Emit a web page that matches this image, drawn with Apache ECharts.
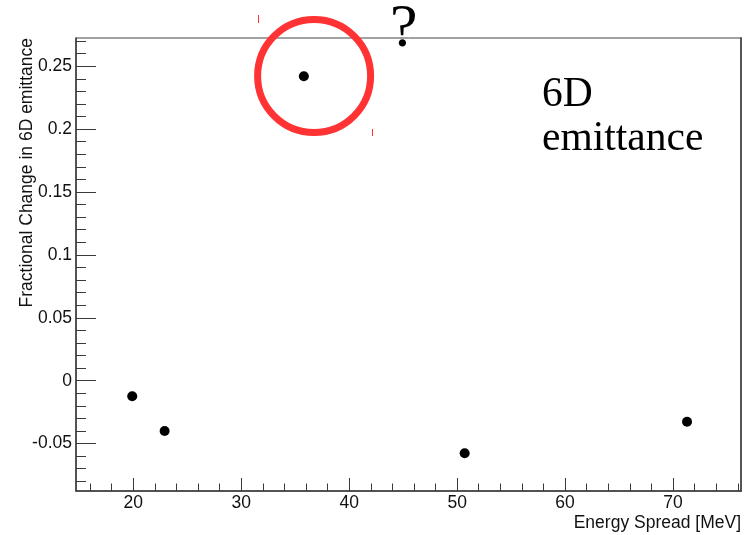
<!DOCTYPE html>
<html>
<head>
<meta charset="utf-8">
<script src="https://cdn.jsdelivr.net/npm/echarts@6/dist/echarts.min.js"></script>
<style>
html,body{margin:0;padding:0;background:#fff;}
#chart{width:753px;height:535px;}
</style>
</head>
<body>
<div id="chart"></div>
<script>
// ---- data ----
const energySpread = [19.9, 22.9, 35.8, 50.7, 71.3];
const fracChange6D = [-0.0124, -0.040, 0.242, -0.0577, -0.0326];
const xMajorTicks = [20, 30, 40, 50, 60, 70];
const xMinorTicks = [16, 18, 20, 22, 24, 26, 28, 30, 32, 34, 36, 38, 40, 42, 44, 46, 48, 50, 52, 54, 56, 58, 60, 62, 64, 66, 68, 70, 72, 74, 76];
const yMajorTicks = [-0.05, 0, 0.05, 0.1, 0.15, 0.2, 0.25];
const yMinorTicks = [-0.08, -0.07, -0.06, -0.05, -0.04, -0.03, -0.02, -0.01, 0, 0.01, 0.02, 0.03, 0.04, 0.05, 0.06, 0.07, 0.08, 0.09, 0.1, 0.11, 0.12, 0.13, 0.14, 0.15, 0.16, 0.17, 0.18, 0.19, 0.2, 0.21, 0.22, 0.23, 0.24, 0.25, 0.26, 0.27];
const xRange = [14.69, 76.3];
const yRange = [-0.0877, 0.2724];
const highlightPoint = [[36.75, 0.2422]];
const xTitle = 'Energy Spread [MeV]';
const yTitle = 'Fractional Change in 6D emittance';

const points = energySpread.map((x, i) => [x, fracChange6D[i]]);
const axisColor = '#3a3a3a';
const sans = 'Liberation Sans';
const serif = 'Liberation Serif';

const chart = echarts.init(document.getElementById('chart'), null, {renderer: 'canvas'});
chart.setOption({
  animation: false,
  backgroundColor: '#fff',
  grid: {left: 76, top: 38, right: 12, bottom: 44, containLabel: false, outerBoundsMode: 'none',
    show: true, borderColor: '#444', borderWidth: 1, backgroundColor: 'transparent'},
  xAxis: [
    {
      type: 'value', min: xRange[0], max: xRange[1], position: 'bottom',
      axisLine: {show: true, onZero: false, lineStyle: {color: axisColor, width: 1.5}},
      axisTick: {show: true, inside: true, length: 13, customValues: xMajorTicks, lineStyle: {color: axisColor}},
      axisLabel: {show: true, customValues: xMajorTicks, margin: 3, color: '#111', fontFamily: sans, fontSize: 17.5, formatter: v => String(v)},
      splitLine: {show: false}
    },
    {
      type: 'value', min: xRange[0], max: xRange[1], position: 'bottom',
      axisLine: {show: false, onZero: false},
      axisTick: {show: true, inside: true, length: 7.5, customValues: xMinorTicks, lineStyle: {color: axisColor}},
      axisLabel: {show: false},
      splitLine: {show: false}
    }
  ],
  yAxis: [
    {
      type: 'value', min: yRange[0], max: yRange[1], position: 'left',
      axisLine: {show: true, onZero: false, lineStyle: {color: axisColor, width: 1.5}},
      axisTick: {show: true, inside: true, length: 20, customValues: yMajorTicks, lineStyle: {color: axisColor}},
      axisLabel: {show: true, customValues: yMajorTicks, margin: 4, color: '#111', fontFamily: sans, fontSize: 17.5, formatter: v => String(v)},
      splitLine: {show: false}
    },
    {
      type: 'value', min: yRange[0], max: yRange[1], position: 'left',
      axisLine: {show: false, onZero: false},
      axisTick: {show: true, inside: true, length: 10, customValues: yMinorTicks, lineStyle: {color: axisColor}},
      axisLabel: {show: false},
      splitLine: {show: false}
    },
    {
      type: 'value', min: yRange[0], max: yRange[1], position: 'right',
      axisLine: {show: true, onZero: false, lineStyle: {color: '#555', width: 2}},
      axisTick: {show: false},
      axisLabel: {show: false},
      splitLine: {show: false}
    }
  ],
  series: [
    {
      type: 'scatter', xAxisIndex: 0, yAxisIndex: 0,
      data: points, symbol: 'circle', symbolSize: 10,
      itemStyle: {color: '#000', opacity: 1}, z: 3
    },
    {
      type: 'scatter', xAxisIndex: 0, yAxisIndex: 0, clip: false, silent: true,
      data: highlightPoint, symbol: 'circle', symbolSize: 113,
      itemStyle: {color: 'rgba(0,0,0,0)', borderColor: '#ff3333', borderWidth: 7, opacity: 1}, z: 4
    }
  ],
  graphic: [
    {type: 'text', x: 741, y: 523.5, style: {text: xTitle, fontFamily: sans, fontSize: 17.5, fill: '#111', align: 'right', verticalAlign: 'middle'}},
    {type: 'text', x: 27.5, y: 38, rotation: Math.PI / 2, style: {text: yTitle, fontFamily: sans, fontSize: 17.5, fill: '#111', align: 'right', verticalAlign: 'middle'}},
    {type: 'line', shape: {x1: 258.5, y1: 15, x2: 258.5, y2: 23}, style: {stroke: '#ff3333', lineWidth: 1}},
    {type: 'line', shape: {x1: 372.5, y1: 129, x2: 372.5, y2: 136}, style: {stroke: '#ff3333', lineWidth: 1}},
    {type: 'text', x: 390, y: 30, style: {text: '?', fontFamily: serif, fontSize: 62, fill: '#000', align: 'left', verticalAlign: 'middle'}},
    {type: 'text', x: 542, y: 95, style: {text: '6D', fontFamily: serif, fontSize: 41.5, fill: '#000', align: 'left', verticalAlign: 'middle'}},
    {type: 'text', x: 542, y: 139, style: {text: 'emittance', fontFamily: serif, fontSize: 41.5, fill: '#000', align: 'left', verticalAlign: 'middle'}}
  ]
});
</script>
</body>
</html>
